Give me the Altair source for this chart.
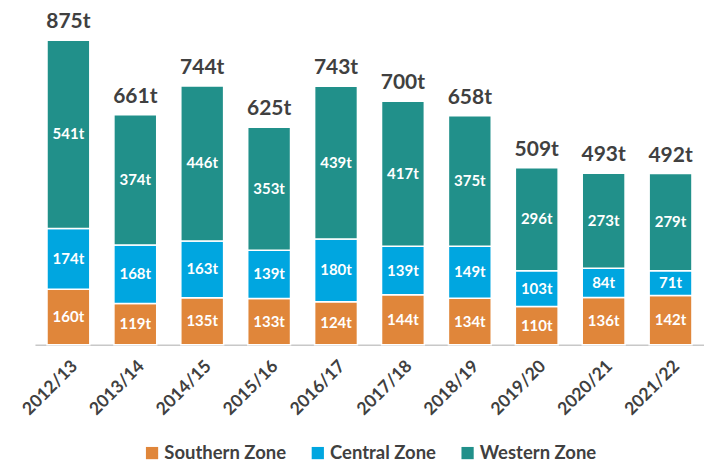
import altair as alt
import pandas as pd

years = ["2012/13", "2013/14", "2014/15", "2015/16", "2016/17",
         "2017/18", "2018/19", "2019/20", "2020/21", "2021/22"]
zones = ["Southern Zone", "Central Zone", "Western Zone"]
southern = [160, 119, 135, 133, 124, 144, 134, 110, 136, 142]
central = [174, 168, 163, 139, 180, 139, 149, 103, 84, 71]
western = [541, 374, 446, 353, 439, 417, 375, 296, 273, 279]
colors = ["#E0863A", "#00A6E0", "#21908A"]

rows = []
for i, y in enumerate(years):
    for k, (z, vals) in enumerate(zip(zones, [southern, central, western])):
        rows.append({"year": y, "zone": z, "order": k, "value": vals[i]})
df = pd.DataFrame(rows)
totals = pd.DataFrame({"year": years,
                       "total": [s + c + w for s, c, w in zip(southern, central, western)]})

FONT = "Lato"

x_enc = alt.X("year:N", sort=years, title=None,
              scale=alt.Scale(paddingInner=0.36, paddingOuter=0.18),
              axis=alt.Axis(labelAngle=-45, labelFontSize=17.5, labelFontWeight="bold",
                            labelColor="#404040", labelFont=FONT, ticks=False,
                            domainColor="#C8C8C8", domainWidth=1.5, labelPadding=12))
y_scale = alt.Scale(domain=[0, 875], nice=False)

base = alt.Chart(df).transform_stack(
    stack="value", groupby=["year"], as_=["y0", "y1"],
    sort=[alt.SortField("order", order="ascending")]
).transform_calculate(mid="(datum.y0 + datum.y1) / 2")

bars = base.mark_bar(stroke="white", strokeWidth=1.5).encode(
    x=x_enc,
    y=alt.Y("y0:Q", scale=y_scale, axis=None),
    y2="y1:Q",
    color=alt.Color("zone:N", sort=zones,
                    scale=alt.Scale(domain=zones, range=colors),
                    legend=alt.Legend(title=None, orient="none", direction="horizontal",
                                      legendX=108, legendY=404,
                                      symbolType="square", symbolSize=150,
                                      symbolStrokeWidth=0, labelFontSize=18.5,
                                      labelFont=FONT, labelFontWeight="bold",
                                      labelColor="#404040", columnPadding=22,
                                      labelOffset=3, labelLimit=300)),
)

seg_text = base.mark_text(color="white", fontSize=15, fontWeight="bold", font=FONT,
                          baseline="middle").encode(
    x=alt.X("year:N", sort=years),
    y=alt.Y("mid:Q", scale=y_scale),
    text=alt.Text("label:N"),
).transform_calculate(label="datum.value + 't'")

tot_text = alt.Chart(totals).mark_text(color="#404040", fontSize=21, fontWeight="bold",
                                       font=FONT, baseline="bottom", dy=-8).encode(
    x=alt.X("year:N", sort=years),
    y=alt.Y("total:Q", scale=y_scale),
    text=alt.Text("label:N"),
).transform_calculate(label="datum.total + 't'")

chart = alt.layer(bars, seg_text, tot_text).properties(
    width=670, height=305,
    autosize=alt.AutoSizeParams(type="none"),
    padding={"left": 27, "top": 32, "right": 0, "bottom": 125},
).configure_view(stroke=None)

chart.save("out.html", embed_options={"renderer": "svg", "actions": False})
